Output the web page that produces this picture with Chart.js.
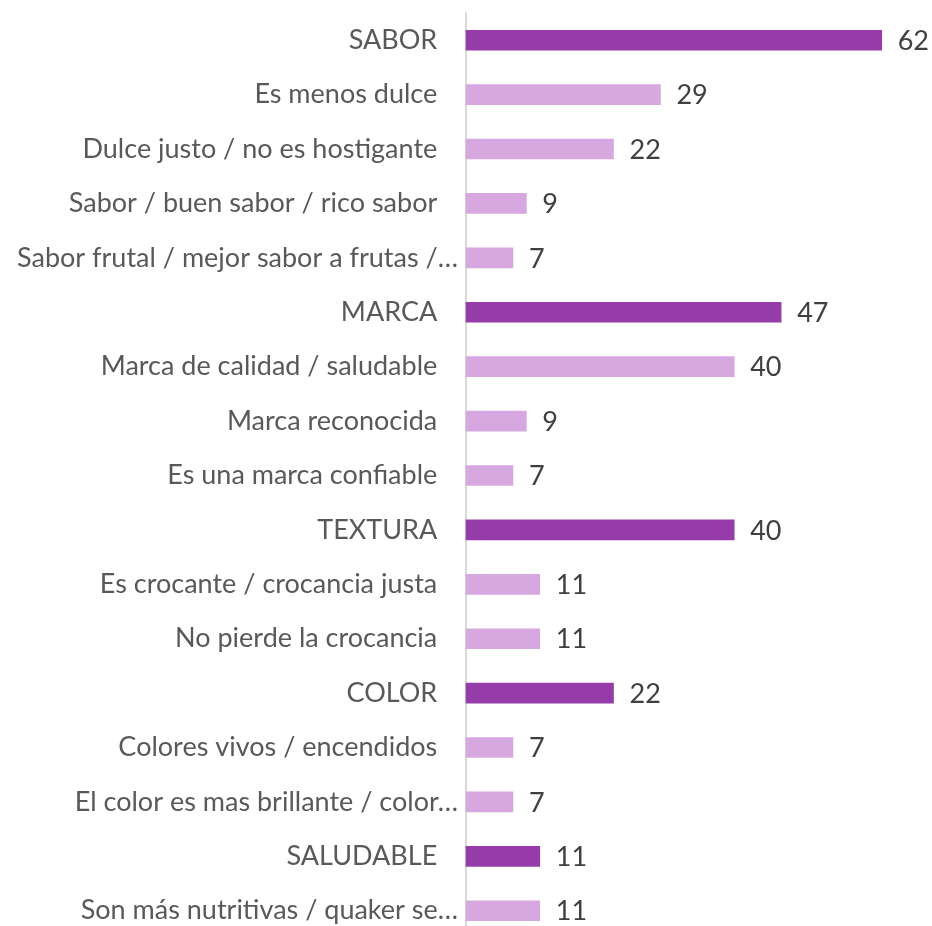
<!DOCTYPE html>
<html>
<head>
<meta charset="utf-8">
<script src="https://cdn.jsdelivr.net/npm/chart.js@4.4.1/dist/chart.umd.min.js"></script>
<style>
  html, body { margin: 0; padding: 0; background: #ffffff; overflow: hidden; }
  #wrap { width: 932px; height: 926px; }
</style>
</head>
<body>
<div id="wrap"><canvas id="chart"></canvas></div>
<script>
// Motivos de preferencia (%), agrupados por atributo
const categories = [
  'SABOR',
  'Es menos dulce',
  'Dulce justo / no es hostigante',
  'Sabor / buen sabor / rico sabor',
  'Sabor frutal / mejor sabor a frutas /…',
  'MARCA',
  'Marca de calidad / saludable',
  'Marca reconocida',
  'Es una marca confiable',
  'TEXTURA',
  'Es crocante / crocancia justa',
  'No pierde la crocancia',
  'COLOR',
  'Colores vivos / encendidos',
  'El color es mas brillante / color…',
  'SALUDABLE',
  'Son más nutritivas / quaker se…'
];
const values = [62, 29, 22, 9, 7, 47, 40, 9, 7, 40, 11, 11, 22, 7, 7, 11, 11];
// true = atributo principal (barra oscura)
const isGroup = [true, false, false, false, false, true, false, false, false, true, false, false, true, false, false, true, false];

const DARK = '#953CAA';
const LIGHT = '#D7A7DF';
const FONT_SIZE = 27;

const points = values.map((v, i) => ({ x: v, y: i }));

const valueLabels = {
  id: 'valueLabels',
  afterDatasetsDraw(chart) {
    const ctx = chart.ctx;
    const meta = chart.getDatasetMeta(0);
    ctx.save();
    ctx.font = FONT_SIZE + 'px Lato';
    ctx.fillStyle = '#404040';
    ctx.textAlign = 'left';
    ctx.textBaseline = 'middle';
    meta.data.forEach((bar, i) => {
      ctx.fillText(String(values[i]), bar.x + 16, bar.y + 1);
    });
    ctx.restore();
  }
};

new Chart(document.getElementById('chart'), {
  type: 'bar',
  data: {
    datasets: [{
      data: points,
      backgroundColor: isGroup.map(g => g ? DARK : LIGHT),
      barThickness: 20,
      borderWidth: 0,
      clip: false
    }]
  },
  options: {
    indexAxis: 'y',
    responsive: true,
    maintainAspectRatio: false,
    animation: false,
    layout: { padding: { top: 13, right: 0, bottom: 0, left: 0 } },
    plugins: { legend: { display: false }, tooltip: { enabled: false } },
    scales: {
      x: {
        type: 'linear',
        display: false,
        bounds: 'data',
        min: 0,
        max: 69.5
      },
      y: {
        type: 'linear',
        reverse: true,
        offset: false,
        bounds: 'data',
        min: -0.5,
        max: 16.28,
        afterBuildTicks(scale) {
          scale.ticks = categories.map((_, i) => ({ value: i }));
        },
        afterFit(scale) {
          scale.width = 466;
          scale.paddingTop = 0;
          scale.paddingBottom = 0;
        },
        grid: { display: true, color: 'rgba(0,0,0,0)', drawTicks: false, tickLength: 0 },
        border: { display: true, color: '#D9D9D9', width: 2 },
        ticks: {
          autoSkip: false,
          padding: 8,
          color: '#595959',
          font: { family: 'Lato', size: FONT_SIZE },
          callback(v) {
            const t = categories[v];
            if (t === undefined) return '';
            return t.endsWith('…') ? t : t + '   ';
          }
        }
      }
    }
  },
  plugins: [valueLabels]
});
</script>
</body>
</html>
